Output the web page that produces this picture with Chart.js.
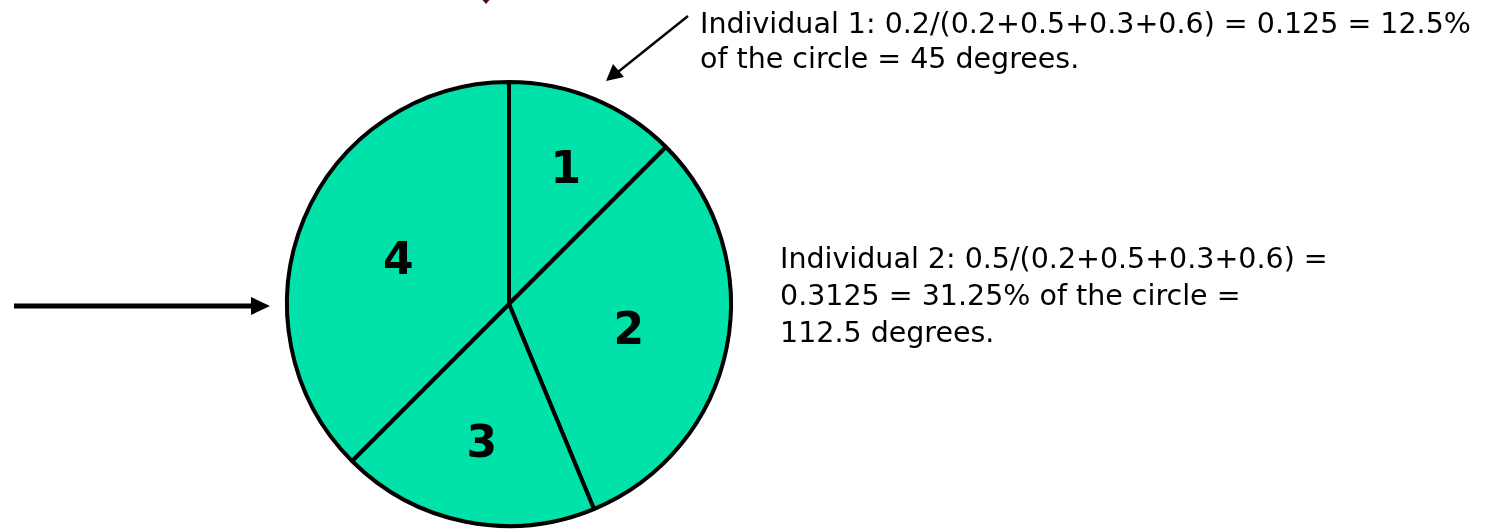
<!DOCTYPE html>
<html>
<head>
<meta charset="utf-8">
<script src="https://cdn.jsdelivr.net/npm/chart.js@4/dist/chart.umd.min.js"></script>
<style>
  html, body { margin: 0; padding: 0; background: #ffffff; }
  #wrap { position: relative; width: 1497px; height: 530px; overflow: hidden; background: #fff; }
  #c { position: absolute; left: 0; top: 0; }
  svg { position: absolute; left: 0; top: 0; }
  .note { position: absolute; font-family: "DejaVu Sans", Verdana, sans-serif; font-size: 28.5px; color: #000; white-space: nowrap; }
</style>
</head>
<body>
<div id="wrap">
  <canvas id="c" width="1497" height="530"></canvas>
  <svg width="1497" height="530" viewBox="0 0 1497 530">
    <!-- diagonal arrow to slice 1 -->
    <line x1="688" y1="16" x2="618" y2="72" stroke="#000" stroke-width="2.5"/>
    <polygon points="606,81 613,64 624,77" fill="#000"/>
    <!-- horizontal arrow -->
    <line x1="14" y1="306" x2="255" y2="306" stroke="#000" stroke-width="5"/>
    <polygon points="270,306 251,297 251,315" fill="#000"/>
    <!-- clipped arrow tip at top -->
    <polygon points="480,-3 492,-3 486,4" fill="#4a1010"/>
  </svg>
  <div class="note" id="n1" style="left:700px; top:6px; line-height:35px;"></div>
  <div class="note" id="n2" style="left:780px; top:240px; line-height:37px;"></div>
</div>
<script>
// ---- data ----
const categories = ["1", "2", "3", "4"];
const fitnessValues = [0.2, 0.5, 0.3, 0.6];
const noteIndividual1 = ["Individual 1: 0.2/(0.2+0.5+0.3+0.6) = 0.125 = 12.5%", "of the circle = 45 degrees."];
const noteIndividual2 = ["Individual 2: 0.5/(0.2+0.5+0.3+0.6) =", "0.3125 = 31.25% of the circle =", "112.5 degrees."];

// ---- styling (not data) ----
const sliceColor = "#00E2A9";
const labelRadiusFactor = [0.67, 0.55, 0.63, 0.54];

document.getElementById("n1").innerHTML = noteIndividual1.join("<br>");
document.getElementById("n2").innerHTML = noteIndividual2.join("<br>");

const sliceLabels = {
  id: "sliceLabels",
  afterDatasetsDraw(chart) {
    const ctx = chart.ctx;
    const meta = chart.getDatasetMeta(0);
    ctx.save();
    ctx.fillStyle = "#000";
    ctx.font = "bold 44px 'DejaVu Sans', Verdana, sans-serif";
    ctx.textAlign = "center";
    ctx.textBaseline = "alphabetic";
    meta.data.forEach((arc, i) => {
      const p = arc.getProps(["x", "y", "startAngle", "endAngle", "outerRadius"], true);
      const mid = (p.startAngle + p.endAngle) / 2;
      const r = p.outerRadius * labelRadiusFactor[i];
      ctx.fillText(categories[i], p.x + Math.cos(mid) * r, p.y + Math.sin(mid) * r + 16);
    });
    ctx.restore();
  }
};

new Chart(document.getElementById("c"), {
  type: "pie",
  data: {
    labels: categories,
    datasets: [{
      data: fitnessValues,
      backgroundColor: sliceColor,
      borderColor: "#000",
      borderWidth: 4,
      hoverOffset: 0,
      hoverBorderWidth: 4
    }]
  },
  options: {
    responsive: false,
    animation: false,
    events: [],
    layout: { padding: { left: 285, right: 764, top: 80, bottom: 2 } },
    plugins: { legend: { display: false }, tooltip: { enabled: false } }
  },
  plugins: [sliceLabels]
});
</script>
</body>
</html>
